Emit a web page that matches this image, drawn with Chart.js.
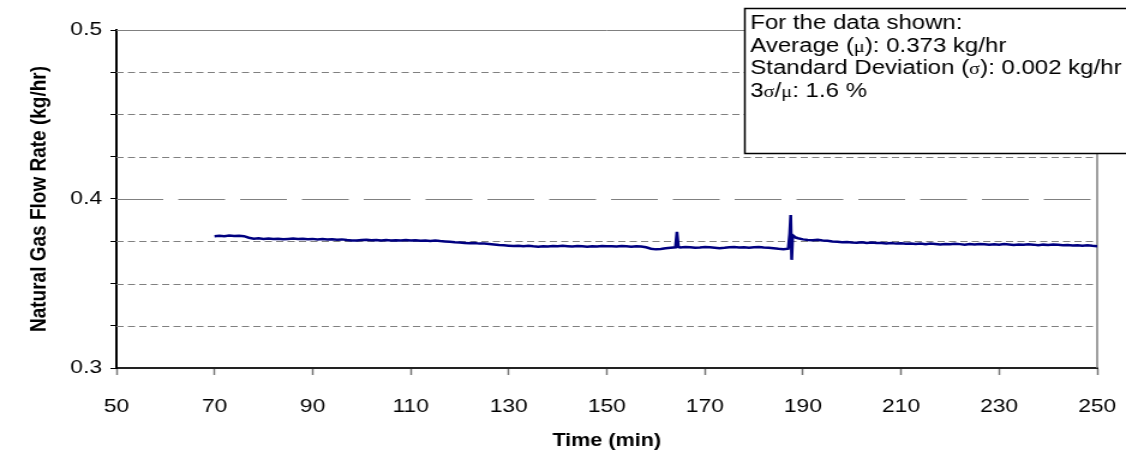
<!DOCTYPE html>
<html>
<head>
<meta charset="utf-8">
<script src="https://cdn.jsdelivr.net/npm/chart.js@4"></script>
<style>
  html, body { margin: 0; padding: 0; background: #fff; overflow: hidden; }
  /* the sheet is drawn narrow and widened, like the exported Excel chart */
  #wrap { width: 938px; height: 462px; transform: scaleX(1.2004); transform-origin: 0 0; }
</style>
</head>
<body>
<div id="wrap"><canvas id="flowChart"></canvas></div>
<script>
// Natural gas flow rate log (kg/hr) against time (min)
const timeMin = [
  70, 71, 72, 73, 74, 75, 76, 77, 78, 79,
  80, 81, 82, 83, 84, 85, 86, 87, 88, 89,
  90, 91, 92, 93, 94, 95, 96, 97, 98, 99,
  100, 101, 102, 103, 104, 105, 106, 107, 108, 109,
  110, 111, 112, 113, 114, 115, 116, 117, 118, 119,
  120, 121, 122, 123, 124, 125, 126, 127, 128, 129,
  130, 131, 132, 133, 134, 135, 136, 137, 138, 139,
  140, 141, 142, 143, 144, 145, 146, 147, 148, 149,
  150, 151, 152, 153, 154, 155, 156, 157, 158, 159,
  160, 161, 162, 163, 164, 164.3, 164.6, 165, 166, 167,
  168, 169, 170, 171, 172, 173, 174, 175, 176, 177,
  178, 179, 180, 181, 182, 183, 184, 185, 186, 187,
  187.3, 187.5, 187.7, 187.9, 188.5, 189, 190, 191, 192, 193,
  194, 195, 196, 197, 198, 199, 200, 201, 202, 203,
  204, 205, 206, 207, 208, 209, 210, 211, 212, 213,
  214, 215, 216, 217, 218, 219, 220, 221, 222, 223,
  224, 225, 226, 227, 228, 229, 230, 231, 232, 233,
  234, 235, 236, 237, 238, 239, 240, 241, 242, 243,
  244, 245, 246, 247, 248, 249, 250
];

const flowRate = [
  0.3779, 0.3782, 0.3780, 0.3784, 0.3781, 0.3783, 0.3780, 0.3771, 0.3765, 0.3767,
  0.3764, 0.3766, 0.3763, 0.3765, 0.3762, 0.3764, 0.3766, 0.3763, 0.3765, 0.3762,
  0.3764, 0.3761, 0.3763, 0.3760, 0.3762, 0.3759, 0.3761, 0.3757, 0.3755, 0.3754,
  0.3757, 0.3759, 0.3756, 0.3758, 0.3755, 0.3757, 0.3754, 0.3756, 0.3755, 0.3757,
  0.3754, 0.3756, 0.3753, 0.3755, 0.3752, 0.3754, 0.3751, 0.3749, 0.3747, 0.3744,
  0.3742, 0.3740, 0.3738, 0.3739, 0.3736, 0.3737, 0.3734, 0.3731, 0.3728, 0.3726,
  0.3724, 0.3722, 0.3724, 0.3721, 0.3723, 0.3720, 0.3718, 0.3721, 0.3719, 0.3722,
  0.3720, 0.3723, 0.3721, 0.3719, 0.3722, 0.3720, 0.3718, 0.3721, 0.3719, 0.3722,
  0.3720, 0.3721, 0.3719, 0.3722, 0.3720, 0.3718, 0.3721, 0.3719, 0.3714, 0.3706,
  0.3702, 0.3704, 0.3708, 0.3712, 0.3714, 0.3805, 0.3716, 0.3713, 0.3716, 0.3714,
  0.3711, 0.3713, 0.3716, 0.3714, 0.3712, 0.3709, 0.3711, 0.3714, 0.3716, 0.3713,
  0.3715, 0.3712, 0.3714, 0.3716, 0.3713, 0.3711, 0.3708, 0.3705, 0.3703, 0.3706,
  0.3795, 0.3905, 0.3640, 0.3785, 0.3772, 0.3768, 0.3761, 0.3758, 0.3756, 0.3759,
  0.3755, 0.3753, 0.3749, 0.3747, 0.3744, 0.3746, 0.3743, 0.3741, 0.3744, 0.3740,
  0.3742, 0.3739, 0.3740, 0.3737, 0.3739, 0.3736, 0.3738, 0.3735, 0.3737, 0.3734,
  0.3736, 0.3733, 0.3736, 0.3734, 0.3731, 0.3734, 0.3732, 0.3735, 0.3733, 0.3730,
  0.3733, 0.3731, 0.3734, 0.3732, 0.3729, 0.3732, 0.3730, 0.3733, 0.3731, 0.3728,
  0.3731, 0.3729, 0.3732, 0.3730, 0.3727, 0.3730, 0.3728, 0.3731, 0.3729, 0.3726,
  0.3728, 0.3725, 0.3727, 0.3724, 0.3726, 0.3723, 0.3721
];

// summary figures printed in the box
const avgFlow = '0.373';
const stdFlow = '0.002';
const covPct = '1.6';

const points = timeMin.map((t, i) => ({ x: t, y: flowRate[i] }));

const TEXT_FONT = '20px "Liberation Sans", Arial, sans-serif';
const GREEK_FONT = '17px "Liberation Serif", "Times New Roman", serif';

function isMajor(v) {
  return Math.abs(v * 10 - Math.round(v * 10)) < 1e-6;
}

// dashed Excel style gridlines + plot frame
const plotGrid = {
  id: 'plotGrid',
  beforeDatasetsDraw(chart) {
    const { ctx, chartArea: a, scales: { y } } = chart;
    ctx.save();
    ctx.strokeStyle = '#808080';
    ctx.lineWidth = 1;
    y.ticks.forEach(t => {
      if (Math.abs(t.value - 0.3) < 1e-6) return;
      const py = Math.round(y.getPixelForValue(t.value)) + 0.5;
      if (Math.abs(t.value - 0.5) < 1e-6) ctx.setLineDash([]);
      else if (isMajor(t.value)) ctx.setLineDash([39, 12.5]);
      else ctx.setLineDash([6, 3.5]);
      ctx.beginPath();
      ctx.moveTo(a.left, py);
      ctx.lineTo(a.right, py);
      ctx.stroke();
    });
    ctx.setLineDash([]);
    ctx.lineWidth = 1.5;
    ctx.beginPath();
    ctx.moveTo(a.right, a.top);
    ctx.lineTo(a.right, a.bottom);
    ctx.stroke();
    ctx.restore();
  }
};

// statistics text box in the top right corner
const statBox = {
  id: 'statBox',
  afterDraw(chart) {
    const ctx = chart.ctx;
    const lines = [
      [['For the data shown:']],
      [['Average ('], ['\u03bc', 1], ['): ' + avgFlow + ' kg/hr']],
      [['Standard Deviation ('], ['\u03c3', 1], ['): ' + stdFlow + ' kg/hr']],
      [['3'], ['\u03c3', 1], ['/'], ['\u03bc', 1], [': ' + covPct + ' %']]
    ];
    ctx.save();
    ctx.fillStyle = '#fff';
    ctx.fillRect(620, 8, 330, 145);
    ctx.strokeStyle = '#000';
    ctx.lineWidth = 1.5;
    ctx.strokeRect(620.5, 8.5, 330, 145);
    ctx.fillStyle = '#000';
    ctx.textBaseline = 'alphabetic';
    lines.forEach((segs, i) => {
      let x = 625;
      const yb = 29 + i * 22.7;
      segs.forEach(([txt, greek]) => {
        ctx.font = greek ? GREEK_FONT : TEXT_FONT;
        ctx.fillText(txt, x, yb);
        x += ctx.measureText(txt).width;
      });
    });
    ctx.restore();
  }
};

const ctx = document.getElementById('flowChart').getContext('2d');
new Chart(ctx, {
  type: 'scatter',
  data: {
    datasets: [{
      data: points,
      showLine: true,
      borderColor: '#000080',
      borderWidth: 2.5,
      pointRadius: 0,
      tension: 0
    }]
  },
  options: {
    responsive: true,
    maintainAspectRatio: false,
    animation: false,
    layout: { padding: { top: 30, right: 24, left: 0, bottom: 0 } },
    plugins: { legend: { display: false }, tooltip: { enabled: false } },
    scales: {
      x: {
        type: 'linear',
        min: 50,
        max: 250,
        afterFit: s => { s.height = 94; s.paddingLeft = 0; s.paddingRight = 0; },
        ticks: {
          stepSize: 20,
          color: '#000',
          padding: 20,
          font: { family: '"Liberation Sans", Arial, sans-serif', size: 19 }
        },
        grid: { drawOnChartArea: false, drawTicks: true, tickLength: 7, tickColor: '#777', tickWidth: 1.5 },
        border: { color: '#222', width: 2 },
        title: {
          display: true,
          text: 'Time (min)',
          color: '#000',
          padding: { top: 0, bottom: 10 },
          font: { family: '"Liberation Sans", Arial, sans-serif', size: 18, weight: 'bold' }
        }
      },
      y: {
        min: 0.3,
        max: 0.5,
        afterFit: s => { s.width = 97; },
        ticks: {
          stepSize: 0.025,
          autoSkip: false,
          color: '#000',
          padding: 7,
          font: { family: '"Liberation Sans", Arial, sans-serif', size: 19 },
          callback: v => isMajor(v) ? v.toFixed(1) : ''
        },
        grid: { drawOnChartArea: false, drawTicks: true, tickLength: 5, tickColor: '#000', tickWidth: 1 },
        border: { color: '#000', width: 2 },
        title: {
          display: true,
          text: 'Natural Gas Flow Rate (kg/hr)',
          color: '#000',
          padding: { top: 21, bottom: 0 },
          font: { family: '"Liberation Sans", Arial, sans-serif', size: 19, weight: 'bold' }
        }
      }
    }
  },
  plugins: [plotGrid, statBox]
});
</script>
</body>
</html>
